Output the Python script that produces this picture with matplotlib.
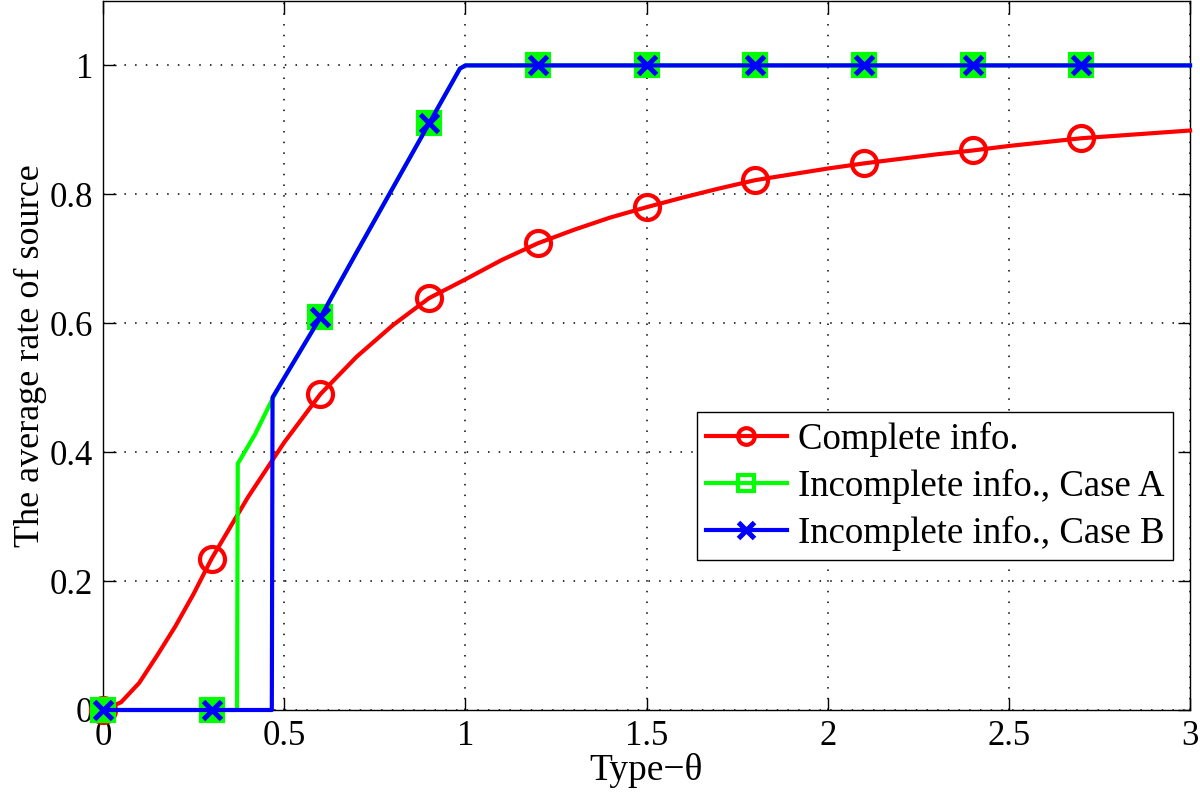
import numpy as np
import matplotlib
matplotlib.use('Agg')
import matplotlib.pyplot as plt
from matplotlib.ticker import FormatStrFormatter

plt.rcParams['font.family'] = ['Liberation Serif', 'DejaVu Serif']

# complete information
theta_c = [0, 0.05, 0.1, 0.15, 0.2, 0.25, 0.3, 0.4, 0.5, 0.6, 0.7, 0.8, 0.9, 1.0,
           1.1, 1.2, 1.3, 1.4, 1.5, 1.6, 1.7, 1.8, 1.9, 2.0,
           2.1, 2.2, 2.3, 2.4, 2.5, 2.6, 2.7, 2.8, 2.9, 3.0]
rate_c = [0, 0.012, 0.042, 0.085, 0.13, 0.18, 0.235, 0.33, 0.415, 0.49, 0.548, 0.597, 0.639, 0.668,
          0.698, 0.724, 0.745, 0.764, 0.780, 0.795, 0.809, 0.822, 0.831, 0.840,
          0.848, 0.855, 0.862, 0.868, 0.875, 0.881, 0.887, 0.891, 0.895, 0.899]

# incomplete information, case A
theta_a = [0, 0.1, 0.2, 0.3, 0.37, 0.372, 0.42, 0.47, 0.5, 0.6, 0.7, 0.8, 0.9,
           0.95, 0.985, 1.0, 1.2, 1.5, 1.8, 2.1, 2.4, 2.7, 3.0]
rate_a = [0, 0, 0, 0, 0, 0.382, 0.428, 0.485, 0.515, 0.609, 0.71, 0.81, 0.91,
          0.96, 0.995, 1, 1, 1, 1, 1, 1, 1, 1]

# incomplete information, case B
theta_b = [0, 0.1, 0.2, 0.3, 0.466, 0.468, 0.5, 0.6, 0.7, 0.8, 0.9,
           0.95, 0.985, 1.0, 1.2, 1.5, 1.8, 2.1, 2.4, 2.7, 3.0]
rate_b = [0, 0, 0, 0, 0, 0.485, 0.515, 0.609, 0.71, 0.81, 0.91,
          0.96, 0.995, 1, 1, 1, 1, 1, 1, 1, 1]

mark_at = np.arange(0, 2.75, 0.3)


def marks(x):
    x = np.asarray(x)
    return [int(np.argmin(np.abs(x - m))) for m in mark_at]


fig = plt.figure(figsize=(12, 7.94), dpi=100)
ax = fig.add_axes([0.0858, 0.1058, 0.9059, 0.893])

ax.plot(theta_c, rate_c, '-o', color='red', lw=3, ms=18, mew=3,
        mfc='none', markevery=marks(theta_c), label='Complete info.',
        zorder=3, clip_on=False)
ax.plot(theta_a, rate_a, '-s', color='#00ff00', lw=3, ms=16, mew=3,
        mfc='#00ff00', markevery=marks(theta_a), label='Incomplete info., Case A',
        zorder=4, clip_on=False)
ax.plot(theta_b, rate_b, '-x', color='blue', lw=3, ms=13, mew=3.6,
        markevery=marks(theta_b), label='Incomplete info., Case B',
        zorder=5, clip_on=False)

ax.set_xlim(0, 3)
ax.set_ylim(0, 1.1)
ax.set_xticks([0, 0.5, 1, 1.5, 2, 2.5, 3])
ax.set_yticks([0, 0.2, 0.4, 0.6, 0.8, 1])
ax.xaxis.set_major_formatter(FormatStrFormatter('%g'))
ax.yaxis.set_major_formatter(FormatStrFormatter('%g'))
ax.tick_params(direction='in', length=9, width=1, top=True, right=True,
               labelsize=25, pad=7)
ax.grid(True, color='black', linestyle=(0, (1, 6)), linewidth=1.1)
for s in ax.spines.values():
    s.set_linewidth(1.0)

ax.set_xlabel('Type\u2212\u03b8', fontsize=27, labelpad=0)
ax.set_ylabel('The average rate of source', fontsize=26, labelpad=2)

leg = ax.legend(loc='upper left', bbox_to_anchor=(0.546, 0.42), fontsize=26.5,
                frameon=True, fancybox=False, edgecolor='black', framealpha=1,
                handlelength=2.2, handletextpad=0.3, borderpad=0.25,
                labelspacing=0.33, borderaxespad=0)
leg.get_frame().set_linewidth(1.0)
for h in leg.legend_handles:
    h.set_markersize(12)
leg.legend_handles[1].set_markerfacecolor('none')

fig.savefig('out.png', dpi=100)
